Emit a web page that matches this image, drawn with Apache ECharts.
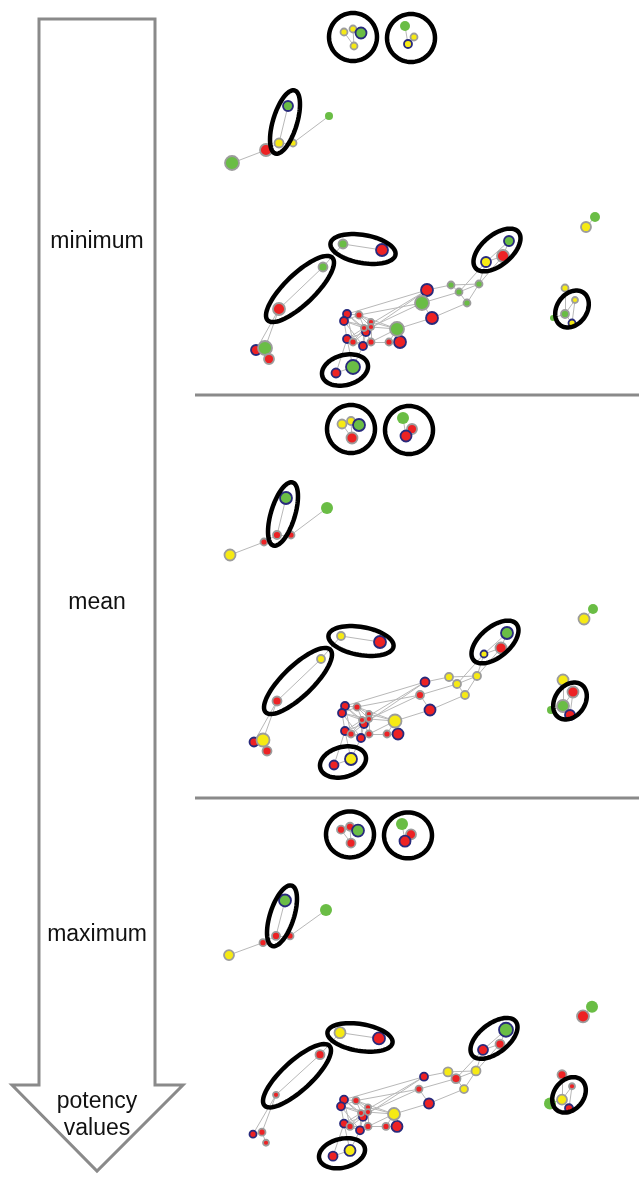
<!DOCTYPE html>
<html><head><meta charset="utf-8">
<script src="https://cdn.jsdelivr.net/npm/echarts@6/dist/echarts.min.js"></script>
<style>html,body{margin:0;padding:0;background:#fff}#c{width:639px;height:1182px}</style>
</head><body><div id="c"></div>
<script>
// Node layout (shared by all three panels, panel-1 reference units)
const nodeX = [344,353,361,354,405,414,408,288,279,293,266,232,329,343,382,323,279,256,265,269,336,353,347,344,366,347,363,400,359,371,364,371,353,371,389,397,427,422,432,451,479,459,467,509,503,486,595,586,565,575,565,572,553];
const nodeY = [32,29,33,46,26,37,44,106,143,143,150,163,116,244,250,267,309,350,348,359,373,367,314,321,332,339,346,342,315,322,328,327,342,342,342,329,290,303,318,285,284,292,303,241,256,262,217,227,288,300,314,323,318];
// border class: n = navy, g = grey, x = none
const nodeBorder = ['g','g','n','g','x','g','n','n','g','g','g','g','x','g','n','g','g','n','g','g','n','n','n','n','n','n','n','n','g','g','g','g','g','g','g','g','n','g','n','g','g','g','g','n','g','n','x','g','g','g','g','n','x'];
// potency class per panel: R red, Y yellow, G green
const colorMin  = ['Y','Y','G','Y','G','Y','Y','G','Y','Y','R','G','G','G','R','G','R','R','G','R','R','G','R','R','R','R','R','R','R','R','R','R','R','R','R','G','R','G','R','G','G','G','G','G','R','Y','G','Y','Y','Y','G','Y','G'];
const colorMean = ['Y','Y','G','R','G','R','R','G','R','R','R','Y','G','Y','R','Y','R','R','Y','R','R','Y','R','R','R','R','R','R','R','R','R','R','R','R','R','Y','R','R','R','Y','Y','Y','Y','G','R','Y','G','Y','Y','R','G','R','G'];
const colorMax  = ['R','R','G','R','G','R','R','G','R','R','R','Y','G','Y','R','R','R','R','R','R','R','Y','R','R','R','R','R','R','R','R','R','R','R','R','R','Y','R','R','R','Y','Y','R','Y','G','R','R','G','R','R','R','Y','R','G'];
const radiusMin  = [3.5,3.5,5.5,3.5,5,3.5,4,5,4.5,3.5,6,7,4,4.5,6,4.5,6,5,7,5,4.5,7,4,4,4,4,4,6,3.5,3,3,3,3.5,3.5,3.5,7,6,7,6,3.5,3.5,3.5,3.5,5,6,5,5,5,3.5,3,4,3.5,3];
const radiusMean = [4.5,4,6,5.5,6,5,5.5,6,4,3.5,3.5,5.5,6,4,6,4,4.5,4.5,6.5,4.5,4.5,6,4,4,4,4,4,5.5,3.5,3,3,3,3.5,3.5,3.5,6.5,4.5,4,5.5,4,4,4,4,6,5.5,3.5,5,5.5,5.5,5.5,6,5,4];
const radiusMax  = [4,4,6,4.5,6,5,5.5,6,4,3.5,3.5,5,6,5.5,6,4.5,3,3.5,3.5,3,4.5,5.5,4,4,4,4,4,5.5,3.5,3,3,3,3.5,3.5,3.5,6,4,3.5,5,4.5,4.5,4.5,4,7,4.5,5,6,6,4.5,3,5,4,6];
const links = [[0,3],[1,3],[1,2],[4,6],[5,6],[7,8],[8,9],[10,8],[10,11],[9,12],
  [13,14],[13,15],[15,16],[16,17],[16,18],[18,19],[17,18],[20,21],[21,25],[21,26],[20,25],
  [22,23],[22,28],[22,30],[22,24],[23,25],[23,28],[23,30],[23,31],[24,28],[24,29],[24,30],[24,31],[24,32],[24,33],
  [25,32],[25,30],[25,24],[25,26],[26,32],[26,33],[26,30],[28,29],[28,31],[29,30],[29,31],[30,31],[30,32],[31,33],
  [32,33],[33,34],[34,35],[29,35],[31,35],[33,35],[28,35],[22,32],[23,26],[34,27],[27,35],[24,26],
  [22,36],[24,36],[28,37],[31,37],[30,36],[35,38],[37,38],[36,39],[39,40],[37,41],[41,40],[41,42],[38,42],[39,41],[42,40],
  [40,45],[40,44],[41,45],[43,44],[44,45],[43,45],[46,47],[49,50],[49,51],[50,51],[50,52],[48,50]];
// Ellipses: cx, cy, semi-axis a, semi-axis b, rotation (deg)
const ellipses = [[353,37,24,24,0],[411,38,24,24,0],[285,122,33,12,-73],[363,249,33,14,10],
  [300,289,45,15,-44],[345,370,23.5,15,-15],[497,250,28,15,-40],[572,309,20,15,-55]];
const panelLabels = ['minimum','mean','maximum'];
const arrowLabel = ['potency','values'];

const FILL = {R:'#ed2224', Y:'#f6ea14', G:'#6abd45'};
const BORDER = {n:'#282a7c', g:'#9c9c9c', x:'rgba(0,0,0,0)'};
const panels = [
  {top:0, xmin:0, colors:colorMin, radii:radiusMin},
  {top:392, xmin:2, colors:colorMean, radii:radiusMean},
  {top:799, xmin:3, colors:colorMax, radii:radiusMax}
];

const chart = echarts.init(document.getElementById('c'), null, {renderer:'canvas'});
const grid = [], xAxis = [], yAxis = [], series = [];
panels.forEach((p, i) => {
  grid.push({left:0, top:p.top, width:639, height:400, show:false});
  xAxis.push({gridIndex:i, type:'value', min:p.xmin, max:p.xmin+639, show:false});
  yAxis.push({gridIndex:i, type:'value', min:0, max:400, inverse:true, show:false});
  series.push({
    type:'graph', coordinateSystem:'cartesian2d', xAxisIndex:i, yAxisIndex:i,
    layout:'none', silent:true, animation:false, z:2,
    data: nodeX.map((x, k) => ({
      value:[x, nodeY[k]],
      symbolSize: p.radii[k]*2,
      itemStyle:{color:FILL[p.colors[k]], borderColor:BORDER[nodeBorder[k]], borderWidth: nodeBorder[k]==='x'?0:1.8}
    })),
    links: links.map(l => ({source:l[0], target:l[1]})),
    lineStyle:{color:'#b8b8b8', width:1, opacity:1, curveness:0},
    label:{show:false}, edgeSymbol:['none','none']
  });
  series.push({
    type:'custom', coordinateSystem:'cartesian2d', xAxisIndex:i, yAxisIndex:i,
    silent:true, animation:false, z:5,
    data: ellipses,
    encode:{x:0, y:1},
    renderItem: function(params, api){
      const cx = api.value(0), cy = api.value(1), a = api.value(2), b = api.value(3);
      const th = api.value(4) * Math.PI / 180;
      const pts = [];
      for (let t = 0; t < 72; t++){
        const u = t / 72 * Math.PI * 2;
        const x = cx + a*Math.cos(th)*Math.cos(u) - b*Math.sin(th)*Math.sin(u);
        const y = cy + a*Math.sin(th)*Math.cos(u) + b*Math.cos(th)*Math.sin(u);
        pts.push(api.coord([x, y]));
      }
      return {type:'polygon', shape:{points:pts}, style:{fill:'none', stroke:'#000', lineWidth:4.5}};
    }
  });
});

const labelY = [242, 603, 935];
const graphic = [
  {type:'polygon', shape:{points:[[39,19],[155,19],[155,1085],[183,1085],[97,1171],[12,1085],[39,1085]]},
   style:{fill:'#fff', stroke:'#8a8a8a', lineWidth:3}, z:0},
  {type:'line', shape:{x1:195,y1:395,x2:639,y2:395}, style:{stroke:'#8a8a8a', lineWidth:3}, z:1},
  {type:'line', shape:{x1:195,y1:798,x2:639,y2:798}, style:{stroke:'#8a8a8a', lineWidth:3}, z:1}
];
panelLabels.forEach((t, i) => graphic.push({type:'text', x:97, y:labelY[i], z:3,
  style:{text:t, font:'23px "Liberation Sans", Arial, sans-serif', fill:'#111', align:'center', verticalAlign:'middle'}}));
arrowLabel.forEach((t, i) => graphic.push({type:'text', x:97, y:1102 + i*27, z:3,
  style:{text:t, font:'23px "Liberation Sans", Arial, sans-serif', fill:'#111', align:'center', verticalAlign:'middle'}}));

chart.setOption({animation:false, backgroundColor:'#fff', grid, xAxis, yAxis, series, graphic});
</script></body></html>
